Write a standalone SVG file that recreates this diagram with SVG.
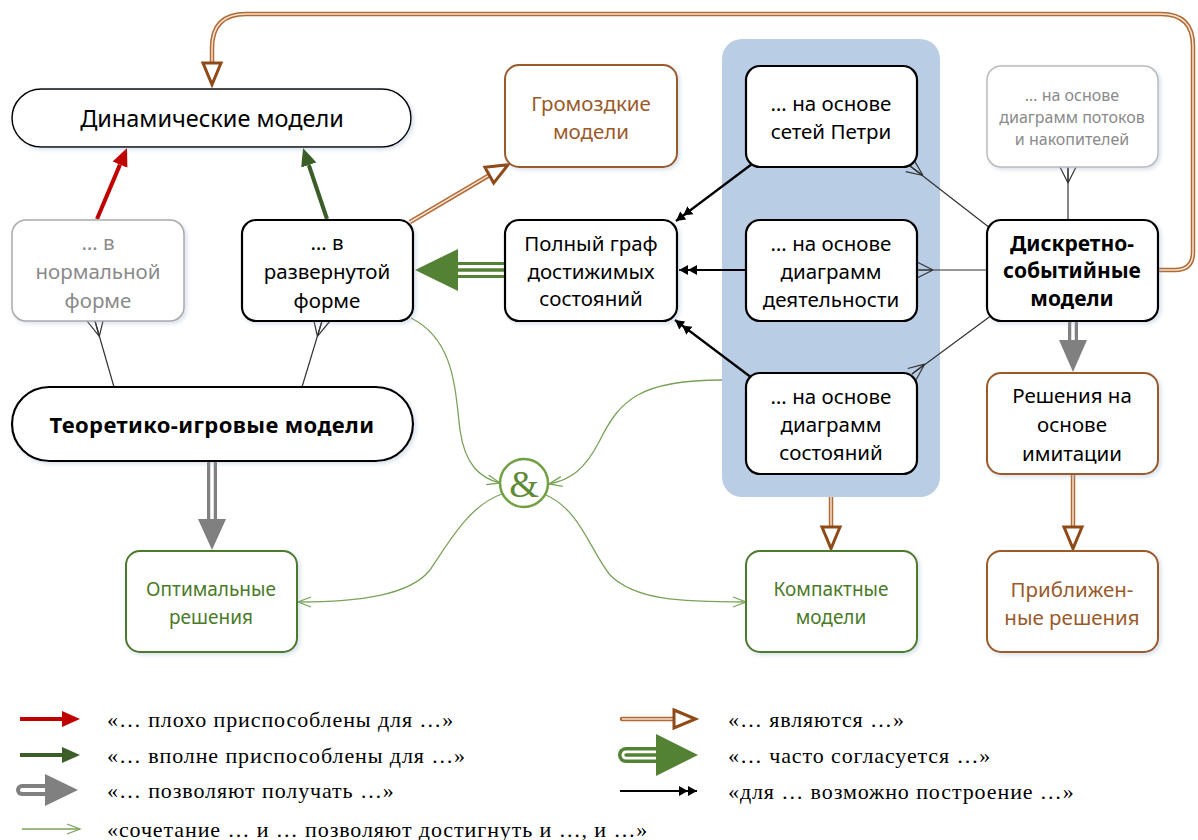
<svg xmlns="http://www.w3.org/2000/svg" width="1198" height="840" viewBox="0 0 1198 840">
<style>
.t{font-family:"Noto Sans","DejaVu Sans",sans-serif;font-size:20.5px;text-anchor:middle;dominant-baseline:central;fill:#000}
.b{font-weight:bold}
.g{fill:#8a8a8a}
.br{fill:#9a5a2a}
.gr{fill:#4a7a28}
.lg{font-family:"Liberation Serif","Times New Roman",serif;font-size:22px;letter-spacing:0.9px;fill:#000;dominant-baseline:central}
.box{fill:#fff;stroke:#000;stroke-width:2.2}
.crow{stroke:#333;stroke-width:1.2;fill:none}
.vg{stroke:#7aa35a;stroke-width:1.3;fill:none}
</style>
<defs>
<filter id="sh" x="-10%" y="-10%" width="130%" height="130%">
<feDropShadow dx="2" dy="2" stdDeviation="2" flood-color="#8fa7c7" flood-opacity="0.35"/>
</filter>
<marker id="hRed" markerUnits="userSpaceOnUse" markerWidth="20" markerHeight="20" refX="0" refY="10" orient="auto"><path d="M0,2 L18,10 L0,18 Z" fill="#c00000"/></marker>
<marker id="hGreen" markerUnits="userSpaceOnUse" markerWidth="20" markerHeight="20" refX="0" refY="10" orient="auto"><path d="M0,2 L18,10 L0,18 Z" fill="#3b5e28"/></marker>
<marker id="hBr" markerUnits="userSpaceOnUse" markerWidth="28" markerHeight="24" refX="1.5" refY="11" orient="auto" overflow="visible"><path d="M1.5,2 L23,11 L1.5,20 Z" fill="#fff" stroke="#8f4a17" stroke-width="3" stroke-linejoin="miter"/></marker>
<marker id="hDbl" markerUnits="userSpaceOnUse" markerWidth="20" markerHeight="12" refX="18" refY="6" orient="auto"><path d="M0,1 L9,6 L0,11 Z M9,1 L18,6 L9,11 Z" fill="#000"/></marker>
<marker id="hV" markerUnits="userSpaceOnUse" markerWidth="16" markerHeight="12" refX="14" refY="6" orient="auto" overflow="visible"><path d="M1,1 L14,6 L1,11" fill="none" stroke="#7aa35a" stroke-width="1.3"/></marker>
</defs>

<!-- group background -->
<g id="group-dis">
<rect x="722" y="39" width="218" height="458" rx="20" fill="#b9cde5"/>
</g>

<g id="connectors">
<!-- crow's foot associations -->
<g class="crow">
<path d="M910,166 L990,228"/><path d="M923,175.5 L905.8,171.6 M923,175.5 L910,166 M923,175.5 L914.2,160.4"/>
<path d="M917,270 L987,270"/><path d="M933,270 L917,262 M933,270 L917,270 M933,270 L917,278"/>
<path d="M912,374 L992,315"/><path d="M924.6,364.2 L916.3,379.5 M924.6,364.2 L912,374 M924.6,364.2 L907.7,368.5"/>
<path d="M1068,167 L1068,220"/><path d="M1068,183 L1060,167 M1068,183 L1068,167 M1068,183 L1076,167"/>
<path d="M95,321 L114,387"/><path d="M99.3,336.4 L87,321 M99.3,336.4 L95,321 M99.3,336.4 L103,321"/>
<path d="M322,321 L302,387"/><path d="M317.4,336.3 L314,321 M317.4,336.3 L322,321 M317.4,336.3 L330,321"/>
</g>
<!-- red / green fitness arrows -->
<path d="M97,219 L120,164.6" stroke="#c00000" stroke-width="4" marker-end="url(#hRed)"/>
<path d="M327,219 L308.8,165" stroke="#3b5e28" stroke-width="4" marker-end="url(#hGreen)"/>
<!-- brown "являются" -->
<g fill="none">
<path d="M1158,270 L1175,270 Q1193,270 1193,252 L1193,46 Q1193,14 1161,14 L246,14 Q212,14 212,48 L212,63" stroke="#b06a36" stroke-width="4.5"/>
<path d="M1158,270 L1175,270 Q1193,270 1193,252 L1193,46 Q1193,14 1161,14 L246,14 Q212,14 212,48 L212,63" stroke="#f6e2d2" stroke-width="1.5"/>
<path d="M212,62 L212,63" stroke="none" marker-end="url(#hBr)"/>
<path d="M410,222 L489.3,175.2" stroke="#b06a36" stroke-width="4.5"/>
<path d="M410,222 L489.3,175.2" stroke="#f6e2d2" stroke-width="1.5"/>
<path d="M488.4,175.7 L489.3,175.2" stroke="none" marker-end="url(#hBr)"/>
<path d="M1073,474 L1073,527" stroke="#b06a36" stroke-width="4.5"/>
<path d="M1073,474 L1073,527" stroke="#f6e2d2" stroke-width="1.5"/>
<path d="M1073,526 L1073,527" stroke="none" marker-end="url(#hBr)"/>
<path d="M831,497 L831,527" stroke="#b06a36" stroke-width="4.5"/>
<path d="M831,497 L831,527" stroke="#f6e2d2" stroke-width="1.5"/>
<path d="M831,526 L831,527" stroke="none" marker-end="url(#hBr)"/>
</g>
<!-- gray "позволяют получать" -->
<path d="M212,461 L212,522" stroke="#808080" stroke-width="10"/>
<path d="M212,461 L212,522" stroke="#fff" stroke-width="3.5"/>
<polygon points="198,519 226,519 212,550" fill="#808080"/>
<path d="M1073,321 L1073,342" stroke="#808080" stroke-width="10"/>
<path d="M1073,321 L1073,342" stroke="#fff" stroke-width="3.5"/>
<polygon points="1059,340 1087,340 1073,372" fill="#808080"/>
<!-- big green "часто согласуется" -->
<path d="M505,270 L454,270" stroke="#548235" stroke-width="16"/>
<path d="M505,270 L454,270" stroke="#fff" stroke-width="10"/>
<path d="M505,270 L454,270" stroke="#548235" stroke-width="3.5"/>
<polygon points="458,249 458,291 415,270" fill="#548235"/>
<!-- black "возможно построение" -->
<g stroke="#000" stroke-width="2.2" fill="none">
<path d="M752,164 L676,221" marker-end="url(#hDbl)"/>
<path d="M746,270 L679,270" marker-end="url(#hDbl)"/>
<path d="M752,378 L675,320" marker-end="url(#hDbl)"/>
</g>
<!-- thin green combination curves -->
<path class="vg" d="M411,318 C455,340 455,390 460,430 C465,465 480,478 500,483" marker-end="url(#hV)"/>
<path class="vg" d="M722,380 C640,380 620,400 600,440 C585,470 570,480 549,484" marker-end="url(#hV)"/>
<path class="vg" d="M502,494 C470,505 450,540 430,570 C410,595 360,602 298,602" marker-end="url(#hV)"/>
<path class="vg" d="M546,495 C580,510 590,550 610,575 C635,600 680,602 746,602" marker-end="url(#hV)"/>
</g>

<g id="n-dyn">
<rect x="12" y="89" width="399" height="58" rx="29" fill="#fff" stroke="#000" stroke-width="1.5" filter="url(#sh)"/>
<text class="t" x="212" y="118" style="font-size:23.5px">Динамические модели</text>
</g>
<g id="n-normal">
<rect x="12" y="220" width="172" height="101" rx="14" fill="#fff" stroke="#aaa" stroke-width="1.5" filter="url(#sh)"/>
<text class="t g" x="98" y="242">… в</text>
<text class="t g" x="98" y="271">нормальной</text>
<text class="t g" x="98" y="300">форме</text>
</g>
<g id="n-razv">
<rect class="box" x="242" y="220" width="171" height="101" rx="14" filter="url(#sh)"/>
<text class="t" x="327" y="242">… в</text>
<text class="t" x="327" y="271">развернутой</text>
<text class="t" x="327" y="300">форме</text>
</g>
<g id="n-grom">
<rect x="505" y="65" width="172" height="102" rx="14" fill="#fff" stroke="#9a5a2a" stroke-width="2" filter="url(#sh)"/>
<text class="t br" x="591" y="103">Громоздкие</text>
<text class="t br" x="591" y="131">модели</text>
</g>
<g id="n-graf">
<rect class="box" x="505" y="220" width="172" height="101" rx="14" filter="url(#sh)"/>
<text class="t" x="591" y="243">Полный граф</text>
<text class="t" x="591" y="271">достижимых</text>
<text class="t" x="591" y="298">состояний</text>
</g>
<g id="n-petri">
<rect class="box" x="746" y="66" width="171" height="101" rx="14" stroke-width="2.6"/>
<text class="t" x="831" y="103">… на основе</text>
<text class="t" x="831" y="131">сетей Петри</text>
</g>
<g id="n-activ">
<rect class="box" x="746" y="220" width="171" height="101" rx="14" stroke-width="2.6"/>
<text class="t" x="831" y="243">… на основе</text>
<text class="t" x="831" y="271">диаграмм</text>
<text class="t" x="831" y="299">деятельности</text>
</g>
<g id="n-states">
<rect class="box" x="746" y="373" width="171" height="101" rx="14" stroke-width="2.6"/>
<text class="t" x="831" y="396">… на основе</text>
<text class="t" x="831" y="424">диаграмм</text>
<text class="t" x="831" y="452">состояний</text>
</g>
<g id="n-flows">
<rect x="987" y="66" width="171" height="101" rx="14" fill="#fff" stroke="#bbb" stroke-width="1.5" filter="url(#sh)"/>
<text class="t g" x="1072" y="95" style="font-size:16px">… на основе</text>
<text class="t g" x="1072" y="117" style="font-size:16px">диаграмм потоков</text>
<text class="t g" x="1072" y="139" style="font-size:16px">и накопителей</text>
</g>
<g id="n-discrete">
<rect class="box" x="987" y="220" width="171" height="101" rx="14" stroke-width="4" filter="url(#sh)"/>
<text class="t b" x="1072" y="243" style="font-size:21px">Дискретно-</text>
<text class="t b" x="1072" y="270" style="font-size:21px">событийные</text>
<text class="t b" x="1072" y="298" style="font-size:21px">модели</text>
</g>
<g id="n-game">
<rect class="box" x="12" y="387" width="401" height="74" rx="37" stroke-width="4" filter="url(#sh)"/>
<text class="t b" x="212" y="424" style="font-size:22px;letter-spacing:0.4px">Теоретико-игровые модели</text>
</g>
<g id="n-imit">
<rect x="987" y="373" width="171" height="101" rx="14" fill="#fff" stroke="#9a5a2a" stroke-width="2" filter="url(#sh)"/>
<text class="t" x="1072" y="395">Решения на</text>
<text class="t" x="1072" y="424">основе</text>
<text class="t" x="1072" y="453">имитации</text>
</g>
<g id="n-approx">
<rect x="987" y="551" width="171" height="101" rx="14" fill="#fff" stroke="#9a5a2a" stroke-width="2" filter="url(#sh)"/>
<text class="t br" x="1072" y="589">Приближен-</text>
<text class="t br" x="1072" y="617">ные решения</text>
</g>
<g id="n-optimal">
<rect x="126" y="551" width="171" height="101" rx="14" fill="#fff" stroke="#4e7a2c" stroke-width="2" filter="url(#sh)"/>
<text class="t gr" x="211" y="589" style="font-size:19px">Оптимальные</text>
<text class="t gr" x="211" y="617" style="font-size:19px">решения</text>
</g>
<g id="n-compact">
<rect x="746" y="551" width="171" height="101" rx="14" fill="#fff" stroke="#4e7a2c" stroke-width="2" filter="url(#sh)"/>
<text class="t gr" x="831" y="589" style="font-size:19px">Компактные</text>
<text class="t gr" x="831" y="617" style="font-size:19px">модели</text>
</g>
<g id="n-and">
<circle cx="524" cy="483" r="24" fill="#fff" stroke="#70a040" stroke-width="2.5"/>
<text x="524" y="484" text-anchor="middle" dominant-baseline="central" font-family="Liberation Serif, serif" font-size="38" fill="#5e8a36">&amp;</text>
</g>

<g id="legend">
<path d="M20,719 L62,719" stroke="#c00000" stroke-width="4" marker-end="url(#hRed)"/>
<text class="lg" x="107" y="719">«… плохо приспособлены для …»</text>
<path d="M20,755 L62,755" stroke="#3b5e28" stroke-width="4" marker-end="url(#hGreen)"/>
<text class="lg" x="107" y="755">«… вполне приспособлены для …»</text>
<path d="M22,790 L48,790" stroke="#808080" stroke-width="12" stroke-linecap="round"/>
<path d="M22,790 L50,790" stroke="#fff" stroke-width="4" stroke-linecap="round"/>
<polygon points="45,774 45,806 78,790" fill="#808080"/>
<text class="lg" x="107" y="790">«… позволяют получать …»</text>
<path class="vg" d="M22,829 L80,829" marker-end="url(#hV)"/>
<text class="lg" x="107" y="829">«сочетание … и … позволяют достигнуть и …, и …»</text>

<path d="M622,719 L674,719" stroke="#b06a36" stroke-width="4.5" stroke-linecap="round"/>
<path d="M622,719 L674,719" stroke="#f6e2d2" stroke-width="1.5"/>
<path d="M673,719 L674,719" stroke="none" marker-end="url(#hBr)"/>
<text class="lg" x="728" y="719">«… являются …»</text>
<path d="M626,755 L660,755" stroke="#548235" stroke-width="16" stroke-linecap="round"/>
<path d="M626,755 L662,755" stroke="#fff" stroke-width="9" stroke-linecap="round"/>
<path d="M626,755 L662,755" stroke="#548235" stroke-width="3.5" stroke-linecap="round"/>
<polygon points="656,734 656,776 698,755" fill="#548235"/>
<text class="lg" x="728" y="755">«… часто согласуется …»</text>
<path d="M620,791 L697,791" stroke="#000" stroke-width="2.2" marker-end="url(#hDbl)"/>
<text class="lg" x="728" y="791">«для … возможно построение …»</text>
</g>
</svg>
